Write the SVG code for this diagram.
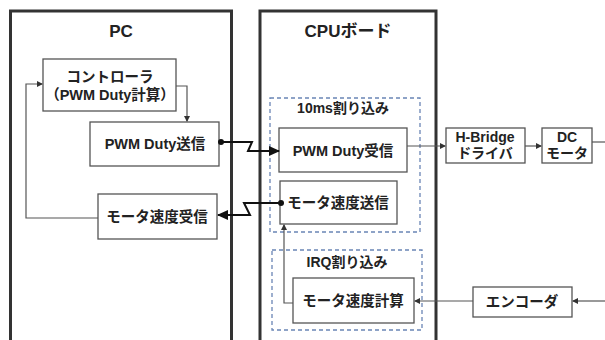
<svg xmlns="http://www.w3.org/2000/svg" width="605" height="340" viewBox="0 0 605 340">
<style>
text{font-family:"Liberation Sans","Noto Sans CJK JP",sans-serif;font-weight:bold;fill:#222;text-anchor:middle}
.t{font-size:17px}
.b{font-size:14.5px}
.s{font-size:14px}
.frame{fill:none;stroke:#333;stroke-width:3}
.box{fill:#fff;stroke:#555;stroke-width:1.3}
.dash{fill:none;stroke:#6a85b5;stroke-width:1.3;stroke-dasharray:4 3}
.c{fill:none;stroke:#555;stroke-width:1.2}
.z{fill:none;stroke:#111;stroke-width:2}
</style>
<defs>
<marker id="a" markerWidth="6" markerHeight="6" refX="5" refY="3" orient="auto" markerUnits="userSpaceOnUse"><path d="M0,0 L6,3 L0,6 z" fill="#333"/></marker>
<marker id="A" markerWidth="11" markerHeight="10" refX="10" refY="5" orient="auto" markerUnits="userSpaceOnUse"><path d="M0,0 L11,5 L0,10 z" fill="#111"/></marker>
</defs>
<rect width="605" height="340" fill="#fff"/>
<g id="pc">
<rect class="frame" x="10.5" y="11" width="221" height="340"/>
<text class="t" x="121" y="37">PC</text>
</g>
<g id="cpu">
<rect class="frame" x="260" y="11" width="176" height="340"/>
<text class="t" x="348" y="37">CPUボード</text>
</g>
<g id="irq10ms">
<rect class="dash" x="270" y="98" width="150" height="134"/>
<text class="s" x="343" y="113">10ms割り込み</text>
</g>
<g id="irq">
<rect class="dash" x="272" y="250" width="150" height="80"/>
<text class="s" x="347" y="267">IRQ割り込み</text>
</g>
<g id="controller">
<rect class="box" x="43" y="59" width="133" height="52"/>
<text class="b" x="110" y="82">コントローラ</text>
<text class="b" x="110" y="100">（PWM Duty計算）</text>
</g>
<g id="pwmsend">
<rect class="box" x="90" y="122" width="129" height="44"/>
<text class="b" x="155" y="149">PWM Duty送信</text>
</g>
<g id="speedrecv">
<rect class="box" x="98" y="194" width="119" height="45"/>
<text class="b" x="157" y="222">モータ速度受信</text>
</g>
<g id="pwmrecv">
<rect class="box" x="279" y="128" width="128" height="44"/>
<text class="b" x="343" y="156">PWM Duty受信</text>
</g>
<g id="speedsend">
<rect class="box" x="280" y="181" width="117" height="43"/>
<text class="b" x="338" y="208">モータ速度送信</text>
</g>
<g id="speedcalc">
<rect class="box" x="293" y="278" width="121" height="45"/>
<text class="b" x="353" y="306">モータ速度計算</text>
</g>
<g id="hbridge">
<rect class="box" x="446" y="128" width="79" height="35"/>
<text class="s" x="485" y="142">H-Bridge</text>
<text class="s" x="485" y="158">ドライバ</text>
</g>
<g id="dcmotor">
<rect class="box" x="542" y="128" width="50" height="35"/>
<text class="s" x="567" y="142">DC</text>
<text class="s" x="567" y="158">モータ</text>
</g>
<g id="encoder">
<rect class="box" x="473" y="287" width="99" height="30"/>
<text class="b" x="522" y="307">エンコーダ</text>
</g>
<g id="connectors">
<path class="c" d="M98,218 H26 V84 H42" marker-end="url(#a)"/>
<path class="c" d="M176,86 H187 V121" marker-end="url(#a)"/>
<path class="z" d="M221,142 H252 L248,151 H279" marker-end="url(#A)"/>
<circle cx="221" cy="142" r="3" fill="#111"/>
<path class="z" d="M281,203 H244 L250,215 H218" marker-end="url(#A)"/>
<circle cx="281" cy="203" r="3" fill="#111"/>
<path class="c" d="M293,303 H284 V225" marker-end="url(#a)"/>
<path class="c" d="M473,301 H415" marker-end="url(#a)"/>
<path class="c" d="M605,301 H573" marker-end="url(#a)"/>
<path class="c" d="M407,146 H445" marker-end="url(#a)"/>
<path class="c" d="M525,146 H541" marker-end="url(#a)"/>
<path class="c" d="M592,142 H605"/>
</g>
</svg>
